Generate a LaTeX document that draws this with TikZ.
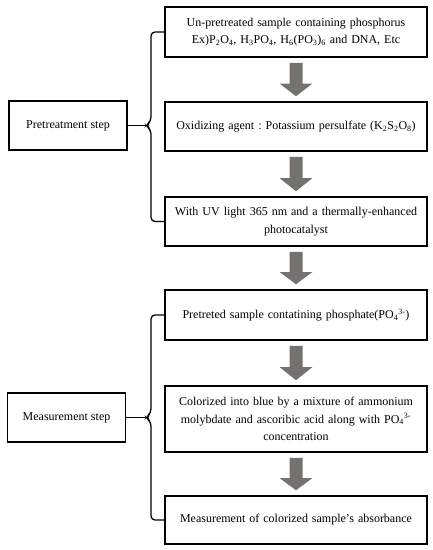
\documentclass[tikz,border=0pt]{standalone}
\usepackage{fontspec}
\setmainfont{Liberation Serif}
\frenchspacing
\definecolor{arrowgray}{RGB}{118,113,113}
\tikzset{
  stepbox/.style={draw=black, line width=1.5pt, minimum width=262pt, text width=256pt, align=center, inner sep=2pt, font=\fontsize{12}{17.5}\selectfont},
  sidebox/.style={draw=black, line width=1.5pt, minimum width=118pt, minimum height=49pt, align=center, font=\fontsize{12}{14}\selectfont},
  brace/.style={draw=black, line width=1.3pt, rounded corners=4pt},
  blockarrow/.style={fill=arrowgray, draw=none}
}
\newcommand{\blockarr}[2]{% top node, bottom node
  \path let \p1=(#1.south), \p2=(#2.north) in
    [blockarrow] (296-6.5, \y1-5) -- (296+6.5, \y1-5) -- (296+6.5, {0.5*(\y1+\y2)-4}) -- (296+16.5,{0.5*(\y1+\y2)-4}) -- (296,\y2+5) -- (296-16.5,{0.5*(\y1+\y2)-4}) -- (296-6.5,{0.5*(\y1+\y2)-4}) -- cycle;
}
\usetikzlibrary{calc}
\begin{document}
\begin{tikzpicture}[x=1pt,y=-1pt]
\useasboundingbox (0,0) rectangle (433,550);
\node[stepbox, minimum height=50pt] (b1) at (296,32) {Un-pretreated sample containing phosphorus\\ Ex)P\textsubscript{2}O\textsubscript{4}, H\textsubscript{3}PO\textsubscript{4}, H\textsubscript{6}(PO\textsubscript{3})\textsubscript{6} and DNA, Etc};
\node[stepbox, minimum height=49pt] (b2) at (296,126.5) {Oxidizing agent : Potassium persulfate (K\textsubscript{2}S\textsubscript{2}O\textsubscript{8})};
\node[stepbox, minimum height=49pt] (b3) at (296,221.5) {With UV light 365 nm and a thermally-enhanced\\ photocatalyst};
\node[stepbox, minimum height=50pt] (b4) at (296,315) {Pretreted sample contatining phosphate(PO\textsubscript{4}\textsuperscript{3-})};
\node[stepbox, minimum height=66pt] (b5) at (296,419) {Colorized into blue by a mixture of ammonium\\ molybdate and ascoribic acid along with PO\textsubscript{4}\textsuperscript{3-}\\ concentration};
\node[stepbox, minimum height=48pt] (b6) at (296,520) {Measurement of colorized sample's absorbance};

\node[sidebox] (p) at (68,125.5) {Pretreatment step};
\node[sidebox] (m) at (66.5,417.5) {Measurement step};

\blockarr{b1}{b2}
\blockarr{b2}{b3}
\blockarr{b3}{b4}
\blockarr{b4}{b5}
\blockarr{b5}{b6}

\coordinate (pt) at (146,125.5);
\coordinate (mt) at (146,417.5);
\draw[brace] (b1.west) -- (151,32) -- (151,121) -- (pt) -- (151,130) -- (151,221.5) -- (b3.west);
\draw[brace] (p.east) -- (pt);
\draw[brace] (b4.west) -- (151,315) -- (151,413) -- (mt) -- (151,422) -- (151,520) -- (b6.west);
\draw[brace] (m.east) -- (mt);
\end{tikzpicture}
\end{document}
